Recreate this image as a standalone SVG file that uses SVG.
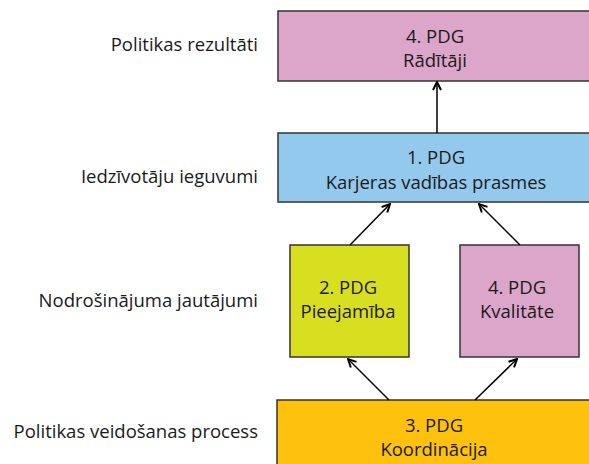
<svg xmlns="http://www.w3.org/2000/svg" width="589" height="464" viewBox="0 0 589 464">
<style>
.box{stroke:#333;stroke-width:1.5}
.t{font-family:"Open Sans","DejaVu Sans",sans-serif;font-size:18.5px;fill:#1a1a1a;text-anchor:middle}
.l{font-family:"Open Sans","DejaVu Sans",sans-serif;font-size:18.5px;fill:#1a1a1a;text-anchor:end}
.c{stroke:#000;stroke-width:1.5;fill:none;marker-end:url(#ah)}
</style>
<defs>
<marker id="ah" viewBox="0 0 10 10" refX="9" refY="5" markerWidth="10" markerHeight="10" markerUnits="userSpaceOnUse" orient="auto">
<path d="M1,1 L9,5 L1,9" fill="none" stroke="#000" stroke-width="2"/>
</marker>
</defs>
<rect width="589" height="464" fill="#fff"/>
<g id="labels">
<text class="l" x="258" y="51">Politikas rezultāti</text>
<text class="l" x="258" y="183">Iedzīvotāju ieguvumi</text>
<text class="l" x="258" y="307">Nodrošinājuma jautājumi</text>
<text class="l" x="258" y="438">Politikas veidošanas process</text>
</g>
<g id="n-raditaji">
<rect class="box" x="278" y="11" width="316" height="70" fill="#DCA6CA"/>
<text class="t" x="435" y="43">4. PDG</text>
<text class="t" x="435" y="67">Rādītāji</text>
</g>
<g id="n-karjeras">
<rect class="box" x="278" y="133" width="316" height="69" fill="#94C9EE"/>
<text class="t" x="436" y="164">1. PDG</text>
<text class="t" x="436" y="189">Karjeras vadības prasmes</text>
</g>
<g id="n-pieejamiba">
<rect class="box" x="290" y="245" width="119" height="112" fill="#D7DF20"/>
<text class="t" x="348" y="294">2. PDG</text>
<text class="t" x="348" y="318">Pieejamība</text>
</g>
<g id="n-kvalitate">
<rect class="box" x="460" y="245" width="119" height="112" fill="#DCA6CA"/>
<text class="t" x="517" y="294">4. PDG</text>
<text class="t" x="517" y="318">Kvalitāte</text>
</g>
<g id="n-koordinacija">
<rect class="box" x="277" y="400" width="318" height="70" fill="#FEC10E"/>
<text class="t" x="434" y="432">3. PDG</text>
<text class="t" x="434" y="456">Koordinācija</text>
</g>
<g id="connectors">
<line class="c" x1="437" y1="133" x2="437" y2="82"/>
<line class="c" x1="350" y1="245" x2="390" y2="204"/>
<line class="c" x1="520" y1="245" x2="479" y2="204"/>
<line class="c" x1="389" y1="400" x2="348" y2="359"/>
<line class="c" x1="475" y1="400" x2="517" y2="359"/>
</g>
</svg>
